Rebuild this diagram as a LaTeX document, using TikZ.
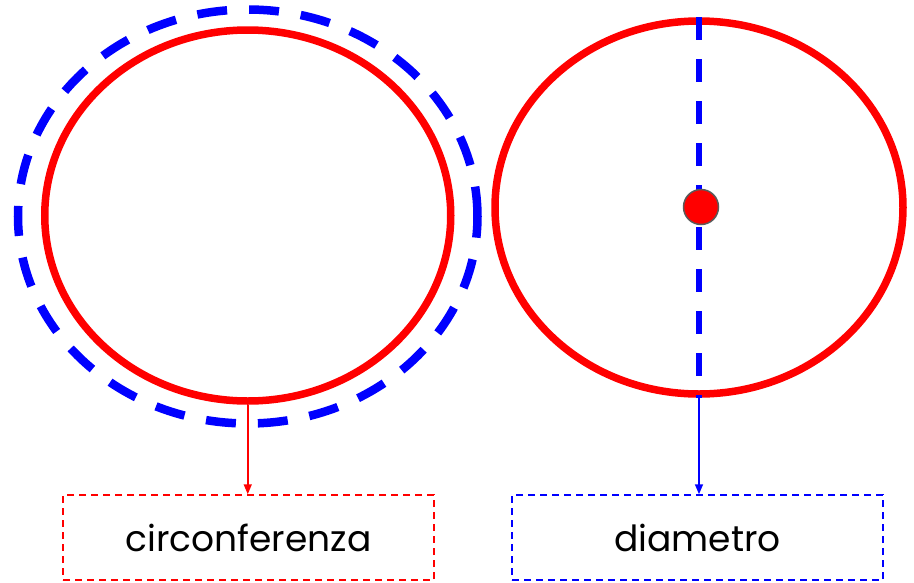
\documentclass[tikz,border=0pt]{standalone}
\usepackage{fontspec}
\setmainfont{Poppins}
\usetikzlibrary{shapes.geometric,arrows.meta}
\begin{document}
\begin{tikzpicture}[x=1pt,y=-1pt,
  redring/.style={draw=red,line width=7.5pt,ellipse,inner sep=0pt},
  blueouter/.style={draw=blue,line width=8.5pt,ellipse,inner sep=0pt,dash pattern=on 30pt off 22pt},
  labelbox/.style={dashed,dash pattern=on 7pt off 5pt,line width=1.5pt,minimum width=371pt,minimum height=85pt,inner sep=0pt,font=\fontsize{36}{40}\selectfont,text=black},
  tipped/.style={line width=1.5pt,-{Triangle[length=10pt,width=8pt]}}]
\useasboundingbox (0,0) rectangle (914,582);
\node[blueouter,minimum width=459.5pt,minimum height=414pt] (outer) at (247.75,216.5) {};
\node[redring,minimum width=406pt,minimum height=371pt] (c1) at (247.75,215.5) {};
\node[redring,minimum width=408pt,minimum height=373pt] (c2) at (699,207.5) {};
\draw[blue,line width=6pt,dash pattern=on 23pt off 19pt] (c2.north) -- (c2.south);
\node[circle,fill=red,draw={rgb,255:red,90;green,90;blue,90},line width=1.5pt,minimum size=35pt,inner sep=0pt] (dot) at (701,207) {};
\node[labelbox,draw=red] (b1) at (248.5,537.5) {circonferenza};
\node[labelbox,draw=blue] (b2) at (697.5,537.5) {diametro};
\draw[tipped,red] (c1.south) -- (c1.south |- b1.north);
\draw[tipped,blue] (c2.south) -- (c2.south |- b2.north);
\end{tikzpicture}
\end{document}
